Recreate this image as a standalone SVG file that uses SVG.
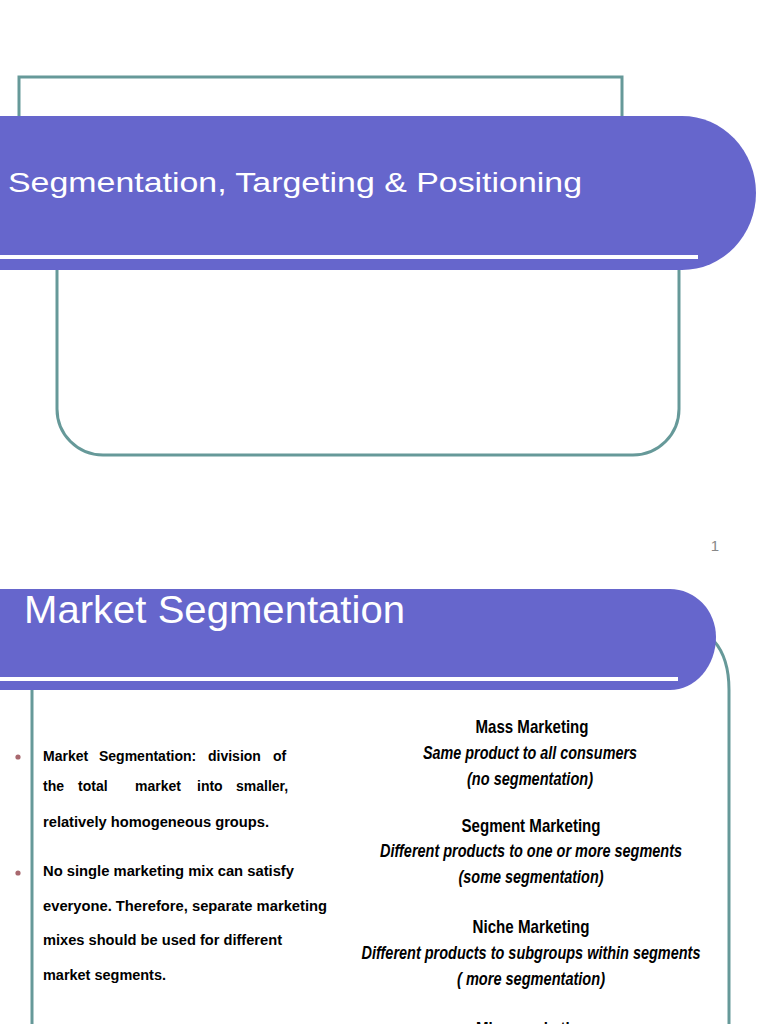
<svg xmlns="http://www.w3.org/2000/svg" width="768" height="1024" viewBox="0 0 768 1024">
<style>
.teal{fill:none;stroke:#669999;stroke-width:3}
.band{fill:#6666CC}
.stripe{fill:#FFFFFF}
.title{font-family:"Liberation Sans",Arial,sans-serif;fill:#FFFFFF}
.body{font-family:"Liberation Sans",Arial,sans-serif;font-weight:bold;font-size:14px;fill:#000000}
.head{font-family:"Liberation Sans",Arial,sans-serif;font-weight:bold;font-size:19px;fill:#000000;text-anchor:middle}
.ital{font-family:"Liberation Sans",Arial,sans-serif;font-weight:bold;font-style:italic;font-size:18px;fill:#000000;text-anchor:middle}
.bullet{fill:#A8686E}
</style>
<rect width="768" height="1024" fill="#FFFFFF"/>

<g id="slide1">
  <path class="teal" d="M19,118 V77 H622 V118"/>
  <path class="teal" d="M57,268 V409 A46,46 0 0 0 103,455 H633 A46,46 0 0 0 679,409 V268"/>
  <path class="band" d="M0,116 H682 A74,77 0 0 1 682,270 H0 Z"/>
  <rect class="stripe" x="0" y="255" width="698" height="4"/>
  <text class="title" x="8" y="192" font-size="28" textLength="574" lengthAdjust="spacingAndGlyphs">Segmentation, Targeting &amp; Positioning</text>
  <text x="715" y="551" font-family="Liberation Sans, Arial, sans-serif" font-size="15" fill="#888888" text-anchor="middle">1</text>
</g>

<g id="slide2">
  <path class="teal" d="M32,688 V1024"/>
  <path class="teal" d="M714,641 Q729,658 729,690 V1024"/>
  <path class="band" d="M0,589 H670 A46,48 0 0 1 716,637 A46,53 0 0 1 670,690 H0 Z"/>
  <rect class="stripe" x="0" y="677" width="678" height="4"/>
  <text class="title" x="24" y="623" font-size="39" textLength="381" lengthAdjust="spacingAndGlyphs">Market Segmentation</text>

  <g id="bullets">
    <circle class="bullet" cx="18" cy="757" r="2.6"/>
    <circle class="bullet" cx="18" cy="873" r="2.6"/>
    <text class="body" y="761"><tspan x="43">Market</tspan><tspan x="99">Segmentation:</tspan><tspan x="208">division</tspan><tspan x="273">of</tspan></text>
    <text class="body" y="791"><tspan x="43">the</tspan><tspan x="78">total</tspan><tspan x="135">market</tspan><tspan x="197">into</tspan><tspan x="236">smaller,</tspan></text>
    <text class="body" x="43" y="827" textLength="226" lengthAdjust="spacingAndGlyphs">relatively homogeneous  groups.</text>
    <text class="body" x="43" y="876" textLength="251" lengthAdjust="spacingAndGlyphs">No single marketing mix can satisfy</text>
    <text class="body" x="43" y="911" textLength="284" lengthAdjust="spacingAndGlyphs">everyone.  Therefore, separate marketing</text>
    <text class="body" x="43" y="945" textLength="239" lengthAdjust="spacingAndGlyphs">mixes should be  used for different</text>
    <text class="body" x="43" y="980" textLength="123" lengthAdjust="spacingAndGlyphs">market segments.</text>
  </g>

  <g id="mass">
    <text class="head" x="532" y="733" textLength="113" lengthAdjust="spacingAndGlyphs">Mass Marketing</text>
    <text class="ital" x="530" y="759" textLength="214" lengthAdjust="spacingAndGlyphs">Same product to all consumers</text>
    <text class="ital" x="530" y="785" textLength="126" lengthAdjust="spacingAndGlyphs">(no segmentation)</text>
  </g>
  <g id="segment">
    <text class="head" x="531" y="832" textLength="139" lengthAdjust="spacingAndGlyphs">Segment Marketing</text>
    <text class="ital" x="531" y="857" textLength="302" lengthAdjust="spacingAndGlyphs">Different products to one or more segments</text>
    <text class="ital" x="531" y="883" textLength="145" lengthAdjust="spacingAndGlyphs">(some segmentation)</text>
  </g>
  <g id="niche">
    <text class="head" x="531" y="933" textLength="117" lengthAdjust="spacingAndGlyphs">Niche Marketing</text>
    <text class="ital" x="531" y="959" textLength="339" lengthAdjust="spacingAndGlyphs">Different products to subgroups within segments</text>
    <text class="ital" x="531" y="985" textLength="148" lengthAdjust="spacingAndGlyphs">( more segmentation)</text>
  </g>
  <g id="micro">
    <text class="head" x="532" y="1035" textLength="112" lengthAdjust="spacingAndGlyphs">Micromarketing</text>
  </g>
</g>
</svg>
